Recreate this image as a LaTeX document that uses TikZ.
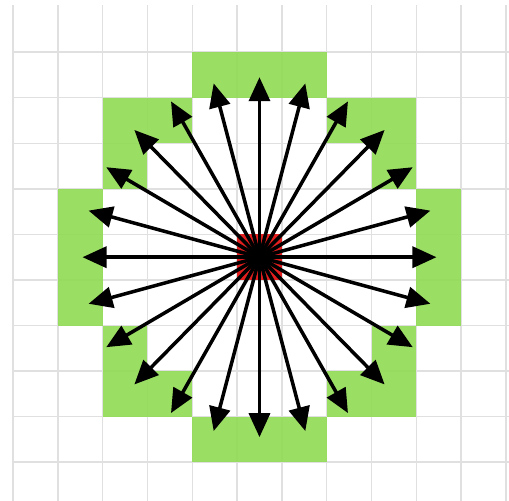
\documentclass[tikz,border=0pt]{standalone}
\usepackage{tikz}
\usetikzlibrary{arrows.meta}

\definecolor{cellgreen}{RGB}{147,219,88}
\definecolor{gridgray}{RGB}{224,224,224}
\definecolor{cellred}{RGB}{226,30,30}

\begin{document}
\begin{tikzpicture}[x=0.896cm, y=0.9112cm,
    ray/.style={line width=2pt, -{Triangle[length=0.48cm, width=0.42cm]}}]
    \useasboundingbox (-5.792,-5.329) rectangle (5.569,5.645);
    \coordinate (O) at (0,0);
    % grid
    \foreach \gx in {-5.5,-4.5,...,5.5} {\draw[gridgray, line width=0.85pt] (\gx,5.535) -- (\gx,-5.4);}
    \foreach \gy in {-4.5,-3.5,...,4.5} {\draw[gridgray, line width=0.85pt] (-5.5,\gy) -- (5.6,\gy);}
    % reached cells
    \foreach \cx/\cy in {-1/4,0/4,1/4,-1/-4,0/-4,1/-4,4/-1,4/0,4/1,-4/-1,-4/0,-4/1,
        3/2,-3/2,3/-2,-3/-2,2/3,-2/3,2/-3,-2/-3,3/3,-3/3,3/-3,-3/-3}
        {\fill[cellgreen, fill opacity=0.93] (\cx-0.5,\cy-0.5) rectangle (\cx+0.5,\cy+0.5);}
    \fill[cellred] (-0.5,-0.5) rectangle (0.5,0.5);
    % rays
    \foreach \a in {0,15,...,345} {
        \coordinate (t\a) at (\a:3.95);
        \draw[ray] (O) -- (t\a);
    }
\end{tikzpicture}
\end{document}
